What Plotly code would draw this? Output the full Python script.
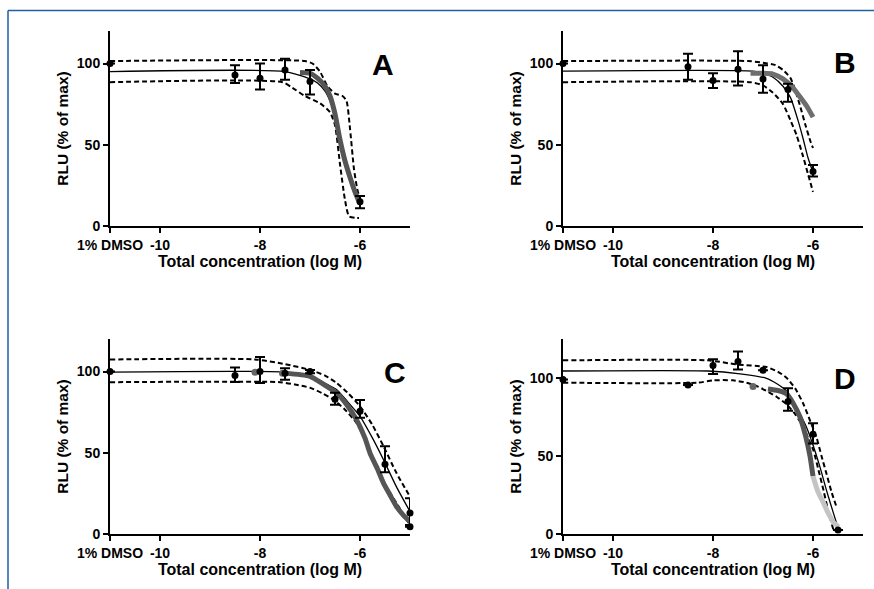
import plotly.graph_objects as go

# ---------------- Panel A ----------------
A_pts_x = [-11, -8.5, -8, -7.5, -7, -6]
A_pts_y = [100, 93, 91, 96, 89, 15]
A_err_hi = [0, 6, 9, 7, 7, 3.5]
A_err_lo = [0, 5, 7, 6, 8, 4]
A_fit_x = [-11, -7.5, -7.0, -6.85, -6.7, -6.6, -6.5, -6.4, -6.3, -6.2, -6.1, -6.0]
A_fit_y = [95, 95, 90.5, 88, 83, 77, 68, 52, 38, 28, 19, 14]
A_up_x = [-11, -7.1, -6.95, -6.8, -6.65, -6.5, -6.35, -6.27, -6.2, -6.12, -6.05, -6.0]
A_up_y = [101.5, 101.5, 100, 95, 86, 81.5, 80, 77, 60, 35, 22, 17]
A_lo_x = [-11, -7.55, -7.35, -7.1, -6.8, -6.6, -6.5, -6.4, -6.3, -6.22, -6.1, -6.02]
A_lo_y = [88.5, 88.5, 85, 80, 75.5, 70, 62, 38, 16, 6, 5, 5]
A_gray_x = [-7.2, -7.0, -6.85, -6.7, -6.6, -6.5, -6.4, -6.3, -6.2, -6.1, -6.02]
A_gray_y = [94.5, 94, 91, 86, 80, 69, 53, 40, 30, 21, 15]

# ---------------- Panel B ----------------
B_pts_x = [-11, -8.5, -8, -7.5, -7, -6.5, -6]
B_pts_y = [100, 98, 89.5, 96.5, 90.5, 84, 33.5]
B_err_hi = [0, 8, 4.5, 11, 8.5, 3.5, 4]
B_err_lo = [0, 8, 4.5, 10, 8.5, 7.5, 3]
B_fit_x = [-11, -7.2, -7.0, -6.8, -6.6, -6.45, -6.3, -6.2, -6.1, -6.0]
B_fit_y = [95.3, 95.3, 94, 91.5, 86, 79, 65, 54, 42, 33]
B_up_x = [-11, -7.3, -7.0, -6.75, -6.6, -6.45, -6.35, -6.25, -6.15, -6.05, -6.0]
B_up_y = [101.5, 101.5, 100.5, 99, 96, 91, 83, 73, 62, 52, 48]
B_lo_x = [-11, -7.25, -7.0, -6.8, -6.6, -6.45, -6.33, -6.2, -6.1, -6.0]
B_lo_y = [88.5, 88.5, 86.5, 82, 75, 65, 56, 43, 32, 21]
B_gray_x = [-7.25, -7.0, -6.8, -6.6, -6.4, -6.25, -6.13, -6.0]
B_gray_y = [94, 94, 93.5, 90.5, 85, 79, 74, 67]

# ---------------- Panel C ----------------
C_pts_x = [-11, -8.5, -8, -7.5, -7, -6.5, -6, -5.5, -5, -5]
C_pts_y = [100, 97.5, 100, 99, 100, 83, 75.5, 43, 13, 4.5]
C_err_hi = [0, 5, 9, 3, 1, 4, 7, 11, 9, 0]
C_err_lo = [0, 4, 7, 4, 1, 3.5, 4, 5, 7.5, 0]
C_fit_x = [-11, -7.5, -7.0, -6.75, -6.47, -6.25, -6.0, -5.75, -5.53, -5.27, -5.0]
C_fit_y = [99.6, 99.6, 97, 93.5, 88.9, 81.5, 72.4, 59, 45.7, 29, 13.8]
C_up_x = [-11, -8.1, -7.5, -7.0, -6.7, -6.47, -6.25, -6.0, -5.75, -5.53, -5.27, -5.0]
C_up_y = [107.4, 107.4, 104.5, 101, 97.5, 93, 87, 78.6, 67, 54, 37.5, 23]
C_lo_x = [-11, -7.6, -7.3, -7.0, -6.75, -6.53, -6.3, -6.07, -5.87, -5.67, -5.47, -5.27, -5.0]
C_lo_y = [93.4, 93.4, 92, 90, 86.5, 82.7, 76.5, 68.3, 56, 41.5, 29, 19, 5.5]
C_gray_x = [-7.5, -7.0, -6.75, -6.47, -6.25, -6.07, -5.9, -5.8, -5.65, -5.53, -5.4, -5.27, -5.13, -5.0]
C_gray_y = [99, 97, 92.5, 86.8, 79, 70.4, 59, 49.8, 40, 31.3, 24, 16.9, 11.5, 7.6]
C_gpts_x = [-8.1, -7.55]
C_gpts_y = [99.6, 99]

# ---------------- Panel D ----------------
D_pts_x = [-11, -8.5, -8, -7.5, -7, -6.5, -6, -5.5]
D_pts_y = [99, 95.5, 108, 110.5, 105, 85, 64, 2.5]
D_err_hi = [0, 0, 4, 6.5, 0, 8.5, 7, 0]
D_err_lo = [0, 0, 5.5, 5, 0, 6, 6, 0]
D_fit_x = [-11, -8.1, -7.46, -6.93, -6.73, -6.53, -6.33, -6.13, -6.0, -5.86, -5.73, -5.59, -5.5]
D_fit_y = [104.5, 104.5, 102.7, 99.8, 96.5, 91.7, 81, 68.4, 57, 42.9, 28, 13.2, 4]
D_up_x = [-11, -8.1, -7.53, -6.93, -6.7, -6.53, -6.35, -6.19, -6.05, -5.93, -5.83, -5.73, -5.63, -5.53]
D_up_y = [111.3, 111.3, 108.7, 107, 104, 100.2, 93, 83.2, 72, 62, 50, 38.6, 27, 17.4]
D_lo_x = [-11, -8.3, -8.0, -7.6, -7.33, -7.1, -6.93, -6.73, -6.53, -6.35, -6.19, -6.09, -5.99, -5.89, -5.79, -5.69, -5.59]
D_lo_y = [97, 97, 98.5, 98.5, 97, 94.5, 91.7, 88, 83.2, 76.5, 68.4, 61, 53.5, 41, 28, 14, 2.5]
D_gray_x = [-6.9, -6.7, -6.53, -6.4, -6.26, -6.15, -6.06, -6.0]
D_gray_y = [93, 92, 89.9, 84, 75, 63, 50, 37]
D_light_x = [-6.0, -5.9, -5.79, -5.69, -5.59, -5.49]
D_light_y = [37, 27, 20, 13, 7.5, 4.5]
D_gpts_x = [-7.2]
D_gpts_y = [94.5]

# ---------------- Axis ticks ----------------
x_tickvals = [-11, -10, -8, -6]
x_ticktext = ["1% DMSO", "-10", "-8", "-6"]
y_tickvals = [0, 50, 100]
y_ticktext = ["0", "50", "100"]
x_title = "Total concentration (log M)"
y_title = "RLU (% of max)"
panel_letters = ["A", "B", "C", "D"]
y_max = [120, 120, 120, 125]

fig = go.Figure()

DASH = "5px,3px"
GRAY = "#555555"


def add_panel(sfx, fit, up, lo, gray, pts, gray_color=GRAY, light=None, gpts=None):
    xa = "x" + sfx
    ya = "y" + sfx
    common = dict(xaxis=xa, yaxis=ya, showlegend=False, cliponaxis=False, hoverinfo="skip")
    fig.add_trace(go.Scatter(x=up[0], y=up[1], mode="lines", line=dict(color="black", width=2, dash=DASH, shape="spline", smoothing=0.6), **common))
    fig.add_trace(go.Scatter(x=lo[0], y=lo[1], mode="lines", line=dict(color="black", width=2, dash=DASH, shape="spline", smoothing=0.6), **common))
    fig.add_trace(go.Scatter(x=fit[0], y=fit[1], mode="lines", line=dict(color="black", width=1.3, shape="spline", smoothing=0.6), **common))
    fig.add_trace(go.Scatter(x=gray[0], y=gray[1], mode="lines", line=dict(color=gray_color, width=5, shape="spline", smoothing=0.6), **common))
    if light is not None:
        fig.add_trace(go.Scatter(x=light[0], y=light[1], mode="lines", line=dict(color="#c4c4c4", width=5, shape="spline", smoothing=0.6), **common))
    if gpts is not None:
        fig.add_trace(go.Scatter(x=gpts[0], y=gpts[1], mode="markers", marker=dict(color="#666666", size=7), **common))
    fig.add_trace(go.Scatter(x=pts[0], y=pts[1], mode="markers", marker=dict(color="black", size=7),
                             error_y=dict(type="data", array=pts[2], arrayminus=pts[3], color="black", thickness=2, width=5),
                             **common))


add_panel("", (A_fit_x, A_fit_y), (A_up_x, A_up_y), (A_lo_x, A_lo_y), (A_gray_x, A_gray_y),
          (A_pts_x, A_pts_y, A_err_hi, A_err_lo))
add_panel("2", (B_fit_x, B_fit_y), (B_up_x, B_up_y), (B_lo_x, B_lo_y), (B_gray_x, B_gray_y),
          (B_pts_x, B_pts_y, B_err_hi, B_err_lo), gray_color="#6e6e6e")
add_panel("3", (C_fit_x, C_fit_y), (C_up_x, C_up_y), (C_lo_x, C_lo_y), (C_gray_x, C_gray_y),
          (C_pts_x, C_pts_y, C_err_hi, C_err_lo), gpts=(C_gpts_x, C_gpts_y))
add_panel("4", (D_fit_x, D_fit_y), (D_up_x, D_up_y), (D_lo_x, D_lo_y), (D_gray_x, D_gray_y),
          (D_pts_x, D_pts_y, D_err_hi, D_err_lo), light=(D_light_x, D_light_y), gpts=(D_gpts_x, D_gpts_y))

W, H = 874, 589
FONT = "Liberation Sans, Arial, sans-serif"
x_doms = [[110 / W, 410 / W], [563 / W, 863 / W]]
y_doms = [[1 - 226 / H, 1 - 31 / H], [1 - 534 / H, 1 - 339 / H]]


def xaxis_cfg(dom, anchor):
    return dict(domain=dom, anchor=anchor, range=[-11, -5], tickvals=x_tickvals, ticktext=x_ticktext,
                showline=True, linecolor="black", linewidth=2, ticks="outside", ticklen=5, tickwidth=2,
                tickcolor="black", showgrid=False, zeroline=False, automargin=False,
                tickfont=dict(family=FONT, size=14, color="black", weight="bold"),
                title=dict(text=x_title, font=dict(family=FONT, size=16, color="black", weight="bold"), standoff=4))


def yaxis_cfg(dom, anchor, ymax):
    return dict(domain=dom, anchor=anchor, range=[0, ymax], tickvals=y_tickvals, ticktext=y_ticktext,
                showline=True, linecolor="black", linewidth=2, ticks="outside", ticklen=5, tickwidth=2,
                tickcolor="black", showgrid=False, zeroline=False, automargin=False,
                tickfont=dict(family=FONT, size=14, color="black", weight="bold"),
                title=dict(text=y_title, font=dict(family=FONT, size=15.5, color="black", weight="bold"), standoff=4))


fig.update_layout(
    width=W, height=H, margin=dict(l=0, r=0, t=0, b=0, autoexpand=False),
    paper_bgcolor="white", plot_bgcolor="white",
    xaxis=xaxis_cfg(x_doms[0], "y"), yaxis=yaxis_cfg(y_doms[0], "x", y_max[0]),
    xaxis2=xaxis_cfg(x_doms[1], "y2"), yaxis2=yaxis_cfg(y_doms[0], "x2", y_max[1]),
    xaxis3=xaxis_cfg(x_doms[0], "y3"), yaxis3=yaxis_cfg(y_doms[1], "x3", y_max[2]),
    xaxis4=xaxis_cfg(x_doms[1], "y4"), yaxis4=yaxis_cfg(y_doms[1], "x4", y_max[3]),
)

letter_pos = [(0.91, 0.83), (0.94, 0.84), (0.95, 0.83), (0.94, 0.80)]
for i, (letter, (lx, ly)) in enumerate(zip(panel_letters, letter_pos)):
    sfx = "" if i == 0 else str(i + 1)
    fig.add_annotation(text=letter, x=lx, y=ly, xref="x" + sfx + " domain", yref="y" + sfx + " domain",
                       showarrow=False, xanchor="center", yanchor="middle",
                       font=dict(family=FONT, size=30, color="black", weight="bold"))

BLUE = "#1f5fa3"
fig.add_shape(type="line", xref="paper", yref="paper", x0=8 / W, x1=1, y0=1 - 10.5 / H, y1=1 - 10.5 / H,
              line=dict(color=BLUE, width=1.5))
fig.add_shape(type="line", xref="paper", yref="paper", x0=8 / W, x1=8 / W, y0=0, y1=1 - 10.5 / H,
              line=dict(color=BLUE, width=1.5))

fig.write_html("out.html", config={"displayModeBar": False},
               post_script="document.body.style.margin='0';document.body.style.padding='0';")
